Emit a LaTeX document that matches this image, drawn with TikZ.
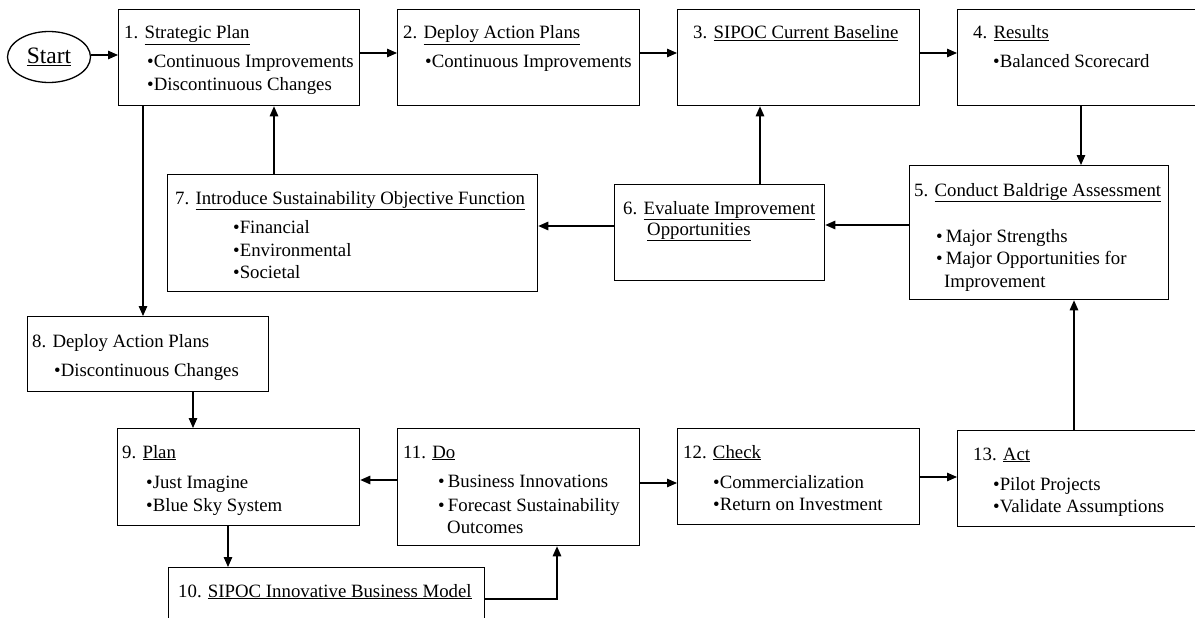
\documentclass[tikz,border=0pt]{standalone}
\usepackage{fontspec}
\setmainfont{Liberation Serif}
\usetikzlibrary{arrows.meta,shapes.geometric}
\begin{document}
\begin{tikzpicture}[x=1pt,y=-1pt,
  box/.style={draw, line width=1.3pt, rectangle, anchor=north west, inner sep=0pt},
  txt/.style={anchor=base west, inner sep=0pt, font=\fontsize{18.8}{22}\selectfont},
  arr/.style={line width=1.3pt, -{Triangle[length=10pt,width=8.5pt]}}]
\useasboundingbox (0,0) rectangle (1195,618);
\clip (0,0) rectangle (1195,618);
% boxes
\node[box, minimum width=241pt, minimum height=96pt] (b1) at (118,9) {};
\node[box, minimum width=242pt, minimum height=96pt] (b2) at (397,9) {};
\node[box, minimum width=242pt, minimum height=96pt] (b3) at (677,9) {};
\node[box, minimum width=260pt, minimum height=96pt] (b4) at (957,9) {};
\node[box, minimum width=259pt, minimum height=134pt] (b5) at (909,165) {};
\node[box, minimum width=210pt, minimum height=96pt] (b6) at (614,184) {};
\node[box, minimum width=370pt, minimum height=117pt] (b7) at (167,174) {};
\node[box, minimum width=241pt, minimum height=75pt] (b8) at (27,316) {};
\node[box, minimum width=242pt, minimum height=97pt] (b9) at (117,428) {};
\node[box, minimum width=316pt, minimum height=80pt] (b10) at (168,567) {};
\node[box, minimum width=242pt, minimum height=117pt] (b11) at (397,428) {};
\node[box, minimum width=242pt, minimum height=96pt] (b12) at (677,428) {};
\node[box, minimum width=260pt, minimum height=96pt] (b13) at (957,430) {};
\node[draw, ellipse, line width=1.3pt, minimum width=83pt, minimum height=51pt, inner sep=0pt] (start) at (49,57) {\fontsize{23.5}{28}\selectfont\underline{Start}};
% texts
\node[txt] (t1) at (124,39) {1. \underline{Strategic Plan}};
\node[txt] (t1a) at (147,68) {\textbullet Continuous Improvements};
\node[txt] (t1b) at (147,91) {\textbullet Discontinuous Changes};
\node[txt] (t2) at (403,39) {2. \underline{Deploy Action Plans}};
\node[txt] (t2a) at (425,68) {\textbullet Continuous Improvements};
\node[txt] (t3) at (693,39) {3. \underline{SIPOC Current Baseline}};
\node[txt] (t4) at (973,39) {4. \underline{Results}};
\node[txt] (t4a) at (993,68) {\textbullet Balanced Scorecard};
\node[txt] (t5) at (914,196) {5. \underline{Conduct Baldrige Assessment}};
\node[txt] (t5a) at (936,242) {\textbullet\,Major Strengths};
\node[txt] (t5b) at (936,264) {\textbullet\,Major Opportunities for};
\node[txt] (t5c) at (944,287) {Improvement};
\node[txt] (t6) at (623,214) {6. \underline{Evaluate Improvement}};
\node[txt] (t6a) at (647,235) {\underline{Opportunities}};
\node[txt] (t7) at (175,204) {7. \underline{Introduce Sustainability Objective Function}};
\node[txt] (t7a) at (233,233) {\textbullet Financial};
\node[txt] (t7b) at (233,256) {\textbullet Environmental};
\node[txt] (t7c) at (233,278) {\textbullet Societal};
\node[txt] (t8) at (32,347) {8. Deploy Action Plans};
\node[txt] (t8a) at (54,376) {\textbullet Discontinuous Changes};
\node[txt] (t9) at (122,458) {9. \underline{Plan}};
\node[txt] (t9a) at (146,488) {\textbullet Just Imagine};
\node[txt] (t9b) at (146,511) {\textbullet Blue Sky System};
\node[txt] (t10) at (178,597) {10. \underline{SIPOC Innovative Business Model}};
\node[txt] (t11) at (403,458) {11. \underline{Do}};
\node[txt] (t11a) at (438,487) {\textbullet\,Business Innovations};
\node[txt] (t11b) at (438,511) {\textbullet\,Forecast Sustainability};
\node[txt] (t11c) at (447,533) {Outcomes};
\node[txt] (t12) at (683,458) {12. \underline{Check}};
\node[txt] (t12a) at (713,488) {\textbullet Commercialization};
\node[txt] (t12b) at (713,510) {\textbullet Return on Investment};
\node[txt] (t13) at (973,460) {13. \underline{Act}};
\node[txt] (t13a) at (993,490) {\textbullet Pilot Projects};
\node[txt] (t13b) at (993,512) {\textbullet Validate Assumptions};
% connectors
\draw[arr] (start.east |- 0,55) -- (b1.west |- 0,55);
\draw[arr] (b1.east |- 0,53) -- (b2.west |- 0,53);
\draw[arr] (b2.east |- 0,53) -- (b3.west |- 0,53);
\draw[arr] (b3.east |- 0,53) -- (b4.west |- 0,53);
\draw[arr] (b4.south -| 1081,0) -- (b5.north -| 1081,0);
\draw[arr] (b5.west |- 0,225) -- (b6.east |- 0,225);
\draw[arr] (b6.north -| 760,0) -- (b3.south -| 760,0);
\draw[arr] (b6.west |- 0,226) -- (b7.east |- 0,226);
\draw[arr] (b7.north -| 274,0) -- (b1.south -| 274,0);
\draw[arr] (b1.south -| 143,0) -- (b8.north -| 143,0);
\draw[arr] (b8.south -| 193,0) -- (b9.north -| 193,0);
\draw[arr] (b11.west |- 0,480) -- (b9.east |- 0,480);
\draw[arr] (b9.south -| 228,0) -- (b10.north -| 228,0);
\draw[arr] (b10.east |- 0,599) -| (b11.south -| 557,0);
\draw[arr] (b11.east |- 0,483) -- (b12.west |- 0,483);
\draw[arr] (b12.east |- 0,477) -- (b13.west |- 0,477);
\draw[arr] (b13.north -| 1074,0) -- (b5.south -| 1074,0);
\end{tikzpicture}
\end{document}
